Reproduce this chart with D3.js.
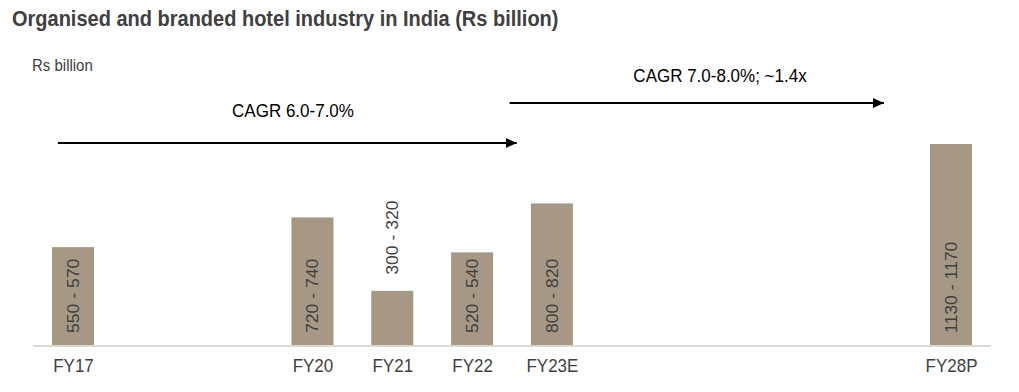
<!DOCTYPE html>
<html>
<head>
<meta charset="utf-8">
<script src="https://cdn.jsdelivr.net/npm/d3@7"></script>
<style>
  body { margin: 0; background: #fff; }
  text { font-family: Arial, "Liberation Sans", sans-serif; }
</style>
</head>
<body>
<div id="chart"></div>
<script>
// data
var categories = ["FY17", "FY20", "FY21", "FY22", "FY23E", "FY28P"];
var fiscalYears = [2017, 2020, 2021, 2022, 2023, 2028];
var values = [560, 730, 310, 530, 810, 1150];
var rangeLabels = ["550 - 570", "720 - 740", "300 - 320", "520 - 540", "800 - 820", "1130 - 1170"];
var cagrLabels = ["CAGR 6.0-7.0%", "CAGR 7.0-8.0%; ~1.4x"];
var cagrFrom = [2016.81, 2022.47];
var cagrTo = [2022.56, 2027.16];

var svgWidth = 1019, svgHeight = 392;
var baseY = 345;
var barWidth = 42;
var stretch = 1.1;   // text in the source is a little taller than wide
var labelColour = "#404040";

var svg = d3.select("#chart").append("svg")
    .attr("width", svgWidth).attr("height", svgHeight);

// helper: stretched horizontal text at (x, y)
function addText(x, y, str) {
    return svg.append("text")
        .attr("transform", "translate(" + x + "," + y + ") scale(1," + stretch + ")")
        .text(str);
}

// scales
var x = d3.scaleLinear().domain([2017, 2028]).range([73, 951]);
var y = d3.scaleLinear().domain([0, 1150]).range([baseY, 144]);

// title
addText(12, 26, "Organised and branded hotel industry in India (Rs billion)")
    .attr("font-size", "20px").attr("font-weight", "bold")
    .attr("fill", labelColour);

addText(32, 71, "Rs billion")
    .attr("font-size", "15px")
    .attr("fill", labelColour);

// arrow head
svg.append("defs").append("marker")
    .attr("id", "arrow")
    .attr("markerUnits", "userSpaceOnUse")
    .attr("markerWidth", 12).attr("markerHeight", 12)
    .attr("refX", 11).attr("refY", 6)
    .attr("orient", "auto")
    .append("path")
        .attr("d", "M0,1 L11,6 L0,11 Z")
        .attr("fill", "#000");

// bars
var data = categories.map(function(c, i) {
    return {cat: c, year: fiscalYears[i], value: values[i], label: rangeLabels[i]};
});

svg.append("g").selectAll("rect")
    .data(data).enter().append("rect")
        .attr("x", function(d) { return x(d.year) - barWidth / 2; })
        .attr("y", function(d) { return y(d.value); })
        .attr("width", barWidth)
        .attr("height", function(d) { return y(0) - y(d.value); })
        .attr("fill", "#a69885");

// baseline
svg.append("line")
    .attr("x1", x(2016.5)).attr("x2", x(2028.5))
    .attr("y1", baseY + 1).attr("y2", baseY + 1)
    .attr("stroke", "#d9d9d9").attr("stroke-width", 2);

// x axis labels
var xAxis = d3.axisBottom(x)
    .tickValues(fiscalYears)
    .tickFormat(function(d, i) { return categories[i]; })
    .tickSize(0).tickPadding(0);
var gx = svg.append("g")
    .attr("transform", "translate(0," + (baseY + 1) + ")")
    .call(xAxis);
gx.select(".domain").remove();
gx.selectAll("text")
    .attr("y", null).attr("dy", null)
    .attr("transform", "translate(0,26) scale(1," + stretch + ")")
    .attr("font-size", "17px")
    .attr("font-family", "Arial, 'Liberation Sans', sans-serif")
    .attr("fill", labelColour);

// value labels, rotated; inside the bar unless the bar is too short
svg.append("g").selectAll("text")
    .data(data).enter().append("text")
        .attr("transform", function(d) {
            var inside = (y(0) - y(d.value)) > 85;
            var ty = inside ? baseY - 12 : y(d.value) - 16;
            return "translate(" + x(d.year) + "," + ty + ") scale(1," + stretch + ") rotate(-90)";
        })
        .attr("dy", "0.36em")
        .attr("text-anchor", "start")
        .attr("font-size", "16px")
        .attr("fill", labelColour)
        .text(function(d) { return d.label; });

// CAGR annotations
var arrowY = [143, 103];
var cagrTextX = [293, 720];
var cagrTextY = [117, 82];
cagrLabels.forEach(function(lbl, i) {
    svg.append("line")
        .attr("x1", x(cagrFrom[i])).attr("x2", x(cagrTo[i]))
        .attr("y1", arrowY[i]).attr("y2", arrowY[i])
        .attr("stroke", "#000").attr("stroke-width", 2)
        .attr("marker-end", "url(#arrow)");
    addText(cagrTextX[i], cagrTextY[i], lbl)
        .attr("text-anchor", "middle")
        .attr("font-size", "17px").attr("fill", "#000");
});
</script>
</body>
</html>
